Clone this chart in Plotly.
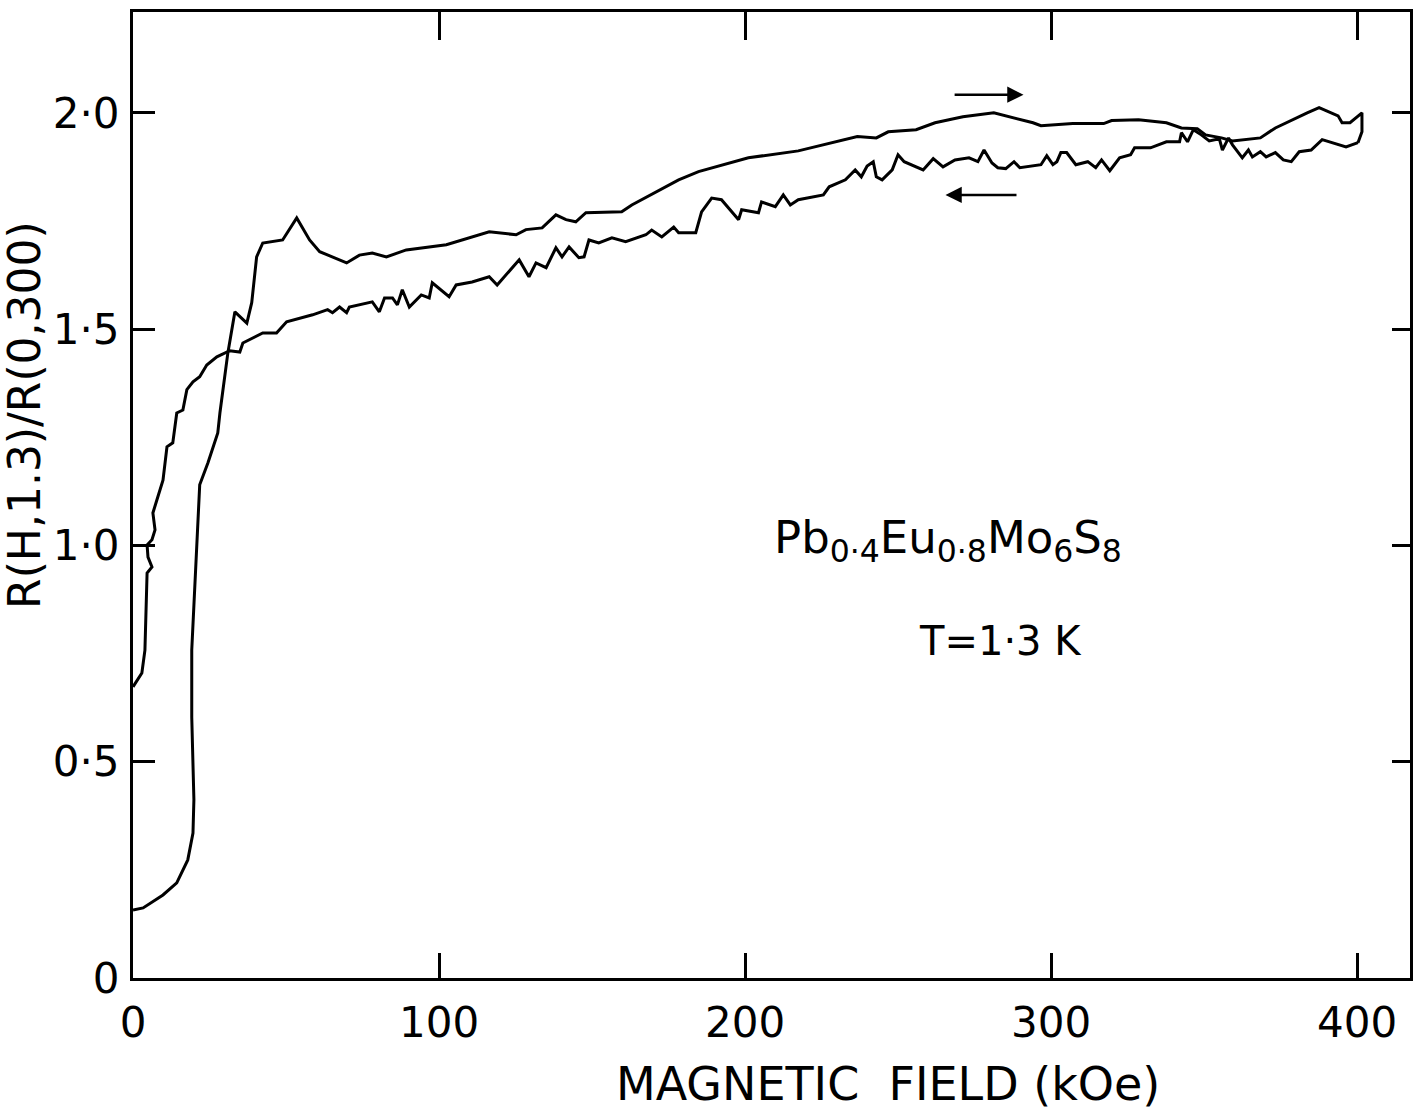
import plotly.graph_objects as go

# Increasing-field sweep (arrow ->), field in kOe, ratio R(H,1.3)/R(0,300)
field_up = [0, 3.3, 9.8, 14.3, 17.9, 19.6, 19.9, 19.2, 19.2, 20.2, 21.2, 21.8, 24.5, 27.7, 28.4,
            31.0, 33.3, 37.2, 38.8, 40.4, 42.4, 48.9, 53.5, 57.7, 61.0, 69.8, 74.0, 78.2, 82.8,
            89.3, 102.4, 116.4, 125.2, 128.4, 133.7, 138.2, 141.5, 144.7, 148.0, 159.7, 163.0,
            178.3, 184.8, 201.1, 217.4, 236.7, 242.9, 246.8, 255.9, 262.1, 271.2, 281.3, 294.1,
            296.7, 307.1, 317.2, 319.8, 328.6, 337.7, 342.6, 347.8, 350.5, 355.7, 359.3, 368.4,
            373.3, 383.7, 387.6, 393.8, 395.1, 397.7, 401.6, 401.6, 400.3]
ratio_up = [0.157, 0.162, 0.192, 0.220, 0.273, 0.335, 0.412, 0.603, 0.758, 0.913, 1.075, 1.140,
            1.191, 1.260, 1.306, 1.445, 1.540, 1.514, 1.561, 1.667, 1.699, 1.706, 1.757, 1.706,
            1.679, 1.653, 1.671, 1.676, 1.667, 1.683, 1.695, 1.725, 1.718, 1.730, 1.734, 1.764,
            1.753, 1.748, 1.769, 1.771, 1.787, 1.845, 1.864, 1.896, 1.912, 1.945, 1.942, 1.956,
            1.961, 1.977, 1.991, 2.000, 1.977, 1.970, 1.975, 1.975, 1.982, 1.984, 1.977, 1.965,
            1.963, 1.949, 1.942, 1.935, 1.942, 1.965, 2.000, 2.012, 1.993, 1.977, 1.977, 2.000,
            1.956, 1.931]

# Decreasing-field sweep (arrow <-)
field_down = [400.3, 396.4, 388.6, 385.0, 381.1, 378.5, 375.9, 373.3, 370.3, 368.4, 365.8, 364.5,
              362.5, 359.3, 358.0, 356.0, 355.0, 351.7, 349.1, 346.5, 344.6, 342.6, 342.0, 337.7,
              332.5, 327.3, 326.0, 322.4, 319.2, 316.5, 314.6, 312.0, 308.1, 305.1, 303.2, 301.9,
              300.6, 298.6, 296.7, 292.7, 289.8, 287.9, 285.2, 282.6, 280.7, 278.1, 276.1, 273.2,
              268.6, 264.7, 261.5, 258.2, 252.0, 250.0, 248.1, 244.8, 242.9, 241.9, 239.9, 238.0,
              236.0, 232.8, 227.5, 225.6, 217.4, 214.8, 212.5, 209.9, 205.4, 204.4, 198.9, 197.9,
              192.3, 189.1, 185.8, 183.9, 178.3, 176.7, 172.8, 169.5, 167.6, 161.0, 156.5, 152.2,
              149.0, 147.4, 145.7, 142.5, 140.2, 138.2, 135.0, 131.7, 129.4, 126.2, 119.0, 116.4,
              110.8, 105.6, 103.3, 97.8, 96.8, 94.2, 90.3, 88.0, 86.4, 84.8, 82.2, 80.5, 78.2,
              70.7, 69.8, 67.5, 65.2, 63.6, 58.7, 50.2, 46.9, 42.4, 38.1, 35.9, 34.9, 31.6, 27.4,
              24.1, 21.8, 19.6, 17.6, 16.3, 14.3, 13.0, 11.1, 9.8, 7.8, 6.5, 7.2, 6.2, 4.6, 4.9,
              6.2, 4.6, 3.9, 2.9, 0]
ratio_down = [1.931, 1.921, 1.938, 1.914, 1.910, 1.887, 1.891, 1.908, 1.898, 1.910, 1.898, 1.914,
              1.896, 1.926, 1.942, 1.914, 1.940, 1.935, 1.949, 1.961, 1.933, 1.954, 1.933, 1.933,
              1.919, 1.919, 1.903, 1.896, 1.866, 1.891, 1.873, 1.887, 1.880, 1.908, 1.908, 1.887,
              1.880, 1.901, 1.880, 1.875, 1.873, 1.887, 1.871, 1.873, 1.884, 1.914, 1.887, 1.896,
              1.891, 1.875, 1.894, 1.868, 1.887, 1.903, 1.868, 1.845, 1.852, 1.887, 1.877, 1.852,
              1.868, 1.845, 1.829, 1.810, 1.799, 1.787, 1.810, 1.783, 1.794, 1.769, 1.776, 1.753,
              1.799, 1.803, 1.771, 1.723, 1.723, 1.736, 1.713, 1.729, 1.718, 1.702, 1.711, 1.699,
              1.706, 1.667, 1.665, 1.690, 1.667, 1.688, 1.642, 1.653, 1.621, 1.660, 1.602, 1.621,
              1.609, 1.602, 1.575, 1.607, 1.572, 1.579, 1.551, 1.591, 1.556, 1.572, 1.572, 1.540,
              1.563, 1.551, 1.538, 1.551, 1.538, 1.545, 1.533, 1.517, 1.491, 1.491, 1.475, 1.468,
              1.447, 1.450, 1.436, 1.417, 1.390, 1.378, 1.360, 1.313, 1.306, 1.237, 1.228, 1.151,
              1.105, 1.075, 1.036, 1.013, 1.001, 0.973, 0.950, 0.936, 0.758, 0.705, 0.673]

x_tickvals = [0, 100, 200, 300, 400]
x_ticktext = ["0", "100", "200", "300", "400"]
y_tickvals = [0, 0.5, 1.0, 1.5, 2.0]
y_ticktext = ["0", "0·5", "1·0", "1·5", "2·0"]

FONT = "DejaVu Sans"
X_RANGE = [0, 417.3]
Y_RANGE = [0, 2.233]

fig = go.Figure()
fig.add_trace(go.Scatter(x=field_up, y=ratio_up, mode="lines",
                         line=dict(color="black", width=3), showlegend=False))
fig.add_trace(go.Scatter(x=field_down, y=ratio_down, mode="lines",
                         line=dict(color="black", width=3), showlegend=False))
# invisible trace to activate the top/right tick axes
fig.add_trace(go.Scatter(x=field_up, y=ratio_up, mode="lines", xaxis="x2", yaxis="y2",
                         line=dict(color="rgba(0,0,0,0)", width=0), showlegend=False,
                         hoverinfo="skip"))

fig.update_layout(
    width=1415, height=1110,
    margin=dict(l=133, r=2, t=12, b=132),
    paper_bgcolor="white", plot_bgcolor="white",
    font=dict(family=FONT, color="black"),
    xaxis=dict(range=X_RANGE, tickvals=x_tickvals, ticktext=x_ticktext,
               ticks="inside", ticklen=25, tickwidth=3, tickcolor="black",
               showline=True, linewidth=3, linecolor="black", mirror=True,
               showgrid=False, zeroline=False,
               tickfont=dict(size=42, family=FONT), ticklabelstandoff=6),
    yaxis=dict(range=Y_RANGE, tickvals=y_tickvals, ticktext=y_ticktext,
               ticks="inside", ticklen=22, tickwidth=3, tickcolor="black",
               showline=True, linewidth=3, linecolor="black", mirror=True,
               showgrid=False, zeroline=False,
               tickfont=dict(size=42, family=FONT), ticklabelstandoff=2),
    xaxis2=dict(range=X_RANGE, overlaying="x", side="top", tickvals=[100, 200, 300, 400],
                ticks="inside", ticklen=28, tickwidth=3, tickcolor="black",
                showticklabels=False, showline=False, showgrid=False, zeroline=False),
    yaxis2=dict(range=Y_RANGE, overlaying="y", side="right", tickvals=[0.5, 1.0, 1.5, 2.0],
                ticks="inside", ticklen=18, tickwidth=3, tickcolor="black",
                showticklabels=False, showline=False, showgrid=False, zeroline=False),
    annotations=[
        dict(text="MAGNETIC  FIELD (kOe)", xref="paper", yref="paper", x=0.591, y=-0.110,
             xanchor="center", yanchor="middle", showarrow=False,
             font=dict(size=46, family=FONT)),
        dict(text="R(H,1.3)/R(0,300)", xref="paper", yref="paper", x=-0.0845, y=0.583,
             xanchor="center", yanchor="middle", textangle=-90, showarrow=False,
             font=dict(size=44, family=FONT)),
        dict(text="Pb<sub>0·4</sub>Eu<sub>0·8</sub>Mo<sub>6</sub>S<sub>8</sub>",
             xref="paper", yref="paper", x=0.638, y=0.453, xanchor="center", yanchor="middle",
             showarrow=False, font=dict(size=45, family=FONT)),
        dict(text="T=1·3 K", xref="paper", yref="paper", x=0.679, y=0.349,
             xanchor="center", yanchor="middle", showarrow=False,
             font=dict(size=40, family=FONT)),
        dict(text="", x=291, y=2.042, ax=268, ay=2.042, xref="x", yref="y",
             axref="x", ayref="y", showarrow=True, arrowhead=2, arrowsize=1.3,
             arrowwidth=2.5, arrowcolor="black"),
        dict(text="", x=265.5, y=1.810, ax=289.2, ay=1.810, xref="x", yref="y",
             axref="x", ayref="y", showarrow=True, arrowhead=2, arrowsize=1.3,
             arrowwidth=2.5, arrowcolor="black"),
    ],
)

fig.write_html("out.html")
